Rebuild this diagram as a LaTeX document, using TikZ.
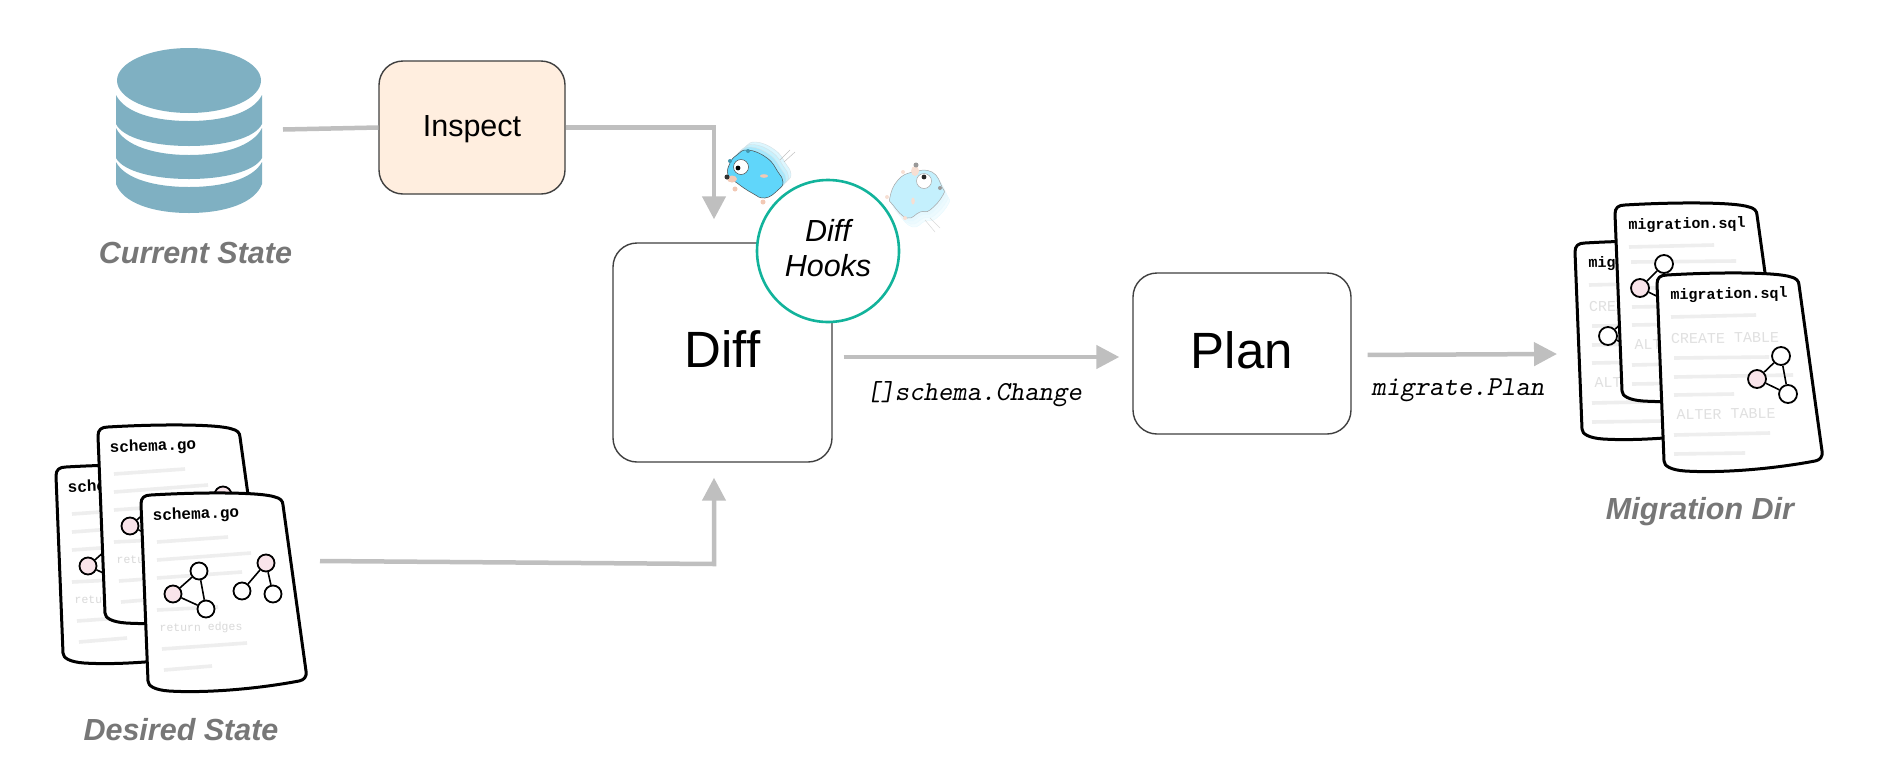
\documentclass[tikz,border=0pt]{standalone}
\usepackage{fontspec}
\setmainfont{Liberation Sans}
\newfontfamily\sheetfont{Liberation Mono}
\usetikzlibrary{arrows.meta}
\definecolor{flowgray}{HTML}{BFBFBF}
\definecolor{boxline}{HTML}{3F3F3F}
\definecolor{inspectfill}{HTML}{FFEEDF}
\definecolor{hookteal}{HTML}{12B39B}
\definecolor{dbblue}{HTML}{7FB0C2}
\definecolor{labelgray}{HTML}{777777}
\definecolor{bargray}{HTML}{EEEEEE}
\definecolor{dotpink}{HTML}{F9E4EA}
\definecolor{gopherblue}{HTML}{60D6FA}
\definecolor{gopherpale}{HTML}{C4F0FD}
\definecolor{gophertan}{HTML}{F2C9B5}
\newcommand{\fsize}[1]{\fontsize{#1}{#1}\selectfont}
\newcommand{\sheetpath}{(0,9) .. controls (0,3) and (3,0) .. (10,0)
  .. controls (60,-3) and (120,-3) .. (134,2) .. controls (139,3) and (142,6) .. (142,10)
  -- (165,176) .. controls (166,182) and (163,185) .. (158,186)
  .. controls (110,195) and (60,198) .. (28,196) .. controls (14,195) and (7,191) .. (7,186) -- cycle}
\tikzset{
  box/.style={draw=boxline,line width=1.4pt,rounded corners=24pt,align=center},
  flow/.style={draw=flowgray,line width=4.5pt,-{Triangle[width=23pt,length=23pt]}},
  flowline/.style={draw=flowgray,line width=4.5pt},
  statelabel/.style={text=labelgray,font=\fsize{30.5}\bfseries\itshape},
  codelabel/.style={font=\fsize{27.4}\ttfamily\slshape},
  sheetline/.style={draw=black,fill=white,line width=3pt,line join=round},
  textbar/.style={draw=bargray,line width=3.6pt},
  tablelabel/.style={rotate=1,text=black!12,font=\fsize{15}\sheetfont},
  whitedot/.style={circle,draw=black,fill=white,line width=1.8pt,minimum size=17pt,inner sep=0pt},
  pinkdot/.style={whitedot,fill=dotpink},
  dotedge/.style={draw=black,line width=1.6pt},
  schemasheet/.pic={
    \draw[sheetline] \sheetpath;
    \node[rotate=2,font=\fsize{16}\sheetfont\bfseries] (-title) at (55,20) {schema.go};
    \foreach \xa/\ya/\xb/\yb in {16/47/87/42,16/65/110/58,16/83/101/77,16/115/77/112,21/154/106/148,23/175/71/171}
      \draw[textbar] (\xa,\ya) -- (\xb,\yb);
    \node[rotate=1,text=black!15,font=\fsize{11.5}\sheetfont] (-code) at (60,133) {return edges};
    \node[pinkdot] (-a) at (32,99) {};
    \node[whitedot] (-b) at (58,76) {};
    \node[whitedot] (-c) at (65,114) {};
    \node[pinkdot] (-d) at (125,68) {};
    \node[whitedot] (-e) at (101,96) {};
    \node[whitedot] (-f) at (132,99) {};
    \draw[dotedge] (-a) -- (-b) (-a) -- (-c) (-b) -- (-c) (-d) -- (-e) (-d) -- (-f);
  },
  sqlsheet/.pic={
    \draw[sheetline] \sheetpath;
    \node[rotate=1,font=\fsize{15}\sheetfont\bfseries] (-title) at (72,20) {migration.sql};
    \foreach \xa/\ya/\xb/\yb in {14/42/99/40,17/83/112/82,17/102/136/100,17/120/77/119,17/160/113/158,17/179/88/178}
      \draw[textbar] (\xa,\ya) -- (\xb,\yb);
    \node[tablelabel] (-alter) at (69,139) {ALTER TABLE};
  }
}
\begin{document}
\begin{tikzpicture}[x=1pt,y=-1pt]
  \path[use as bounding box] (0,0) rectangle (1881,777);
  % current state
  \fill[dbblue] (189,80.5) ellipse [x radius=72,y radius=32.5];
  \fill[dbblue] (116,95) .. controls (125,113) and (155,121) .. (189,121) .. controls (223,121) and (253,113) .. (262,95)
    -- (262,124) .. controls (255,138) and (225,146) .. (189,146) .. controls (153,146) and (123,138) .. (116,124) -- cycle;
  \fill[dbblue] (116,128) .. controls (125,146) and (155,155) .. (189,155) .. controls (223,155) and (253,146) .. (262,128)
    -- (262,158) .. controls (255,171) and (225,179) .. (189,179) .. controls (153,179) and (123,171) .. (116,158) -- cycle;
  \fill[dbblue] (116,162) .. controls (125,179) and (155,187) .. (189,187) .. controls (223,187) and (253,179) .. (262,162)
    -- (262,184) .. controls (255,203) and (225,213) .. (189,213) .. controls (153,213) and (123,203) .. (116,184) -- cycle;
  \node[statelabel] (currentlabel) at (195.5,253) {Current State};
  % boxes
  \node[box,fill=inspectfill,minimum width=186pt,minimum height=133pt,text height=25pt,font=\fsize{30.5}] (inspect) at (472,127.5) {Inspect};
  \node[box,minimum width=219pt,minimum height=219pt,text depth=7pt,font=\fsize{51}] (diff) at (722.5,352.5) {Diff};
  \node[box,minimum width=218pt,minimum height=161pt,text depth=7pt,font=\fsize{51}] (plan) at (1242,353.5) {Plan};
  % connectors
  \coordinate (dbout) at (283,129.5);
  \coordinate (desiredout) at (320,561);
  \coordinate (desiredbend) at (714,564);
  \coordinate (migin) at (1557,354);
  \draw[flowline] (dbout) -- (inspect.west);
  \draw[flow,shorten >=23pt] (inspect.east) -| ([xshift=-8.5pt]diff.north);
  \draw[flow,shorten >=15pt] (desiredout) -- (desiredbend) -- ([xshift=-8.5pt]diff.south);
  \draw[flow,shorten <=11pt,shorten >=13pt] ([yshift=-4.5pt]diff.east) -- ([yshift=-3.5pt]plan.west);
  \draw[flow,shorten <=16pt] ([yshift=-1.5pt]plan.east) -- (migin);
  \node[codelabel] (changelabel) at (974,394) {[]schema.Change};
  \node[codelabel] (planlabel) at (1458,390) {migrate.Plan};
  % gopher one
  \foreach \off/\shade in {8/22,5.5/35,3/55}
    \draw[draw=gopherblue!50!black!20,fill=gopherblue!\shade] plot[smooth cycle,tension=0.8] coordinates
      {({748+\off},{150-\off}) ({767+\off},{158-\off}) ({778+\off},{172-\off}) ({783+\off},{182-\off}) ({778+\off},{190-\off}) ({765+\off},{198-\off}) ({752+\off},{193-\off}) ({737+\off},{183-\off}) ({728+\off},{175-\off}) ({730+\off},{163-\off}) ({737+\off},{155-\off})};
  \draw[draw=black!70,line width=0.5pt,fill=gopherblue] plot[smooth cycle,tension=0.8] coordinates
    {(748,150) (767,158) (778,172) (783,182) (778,190) (765,198) (752,193) (737,183) (728,175) (730,163) (737,155)};
  \fill[gophertan] (735,189) circle (2.5) (763,202) circle (2.5) (764,176) ellipse [x radius=4,y radius=1.8] (732,179) ellipse [x radius=5,y radius=3.5];
  \fill[black!80] (727,177) circle (2.5);
  \fill[gopherblue!70!black] (748,151) circle (2) (730,161) circle (2);
  \draw[black!70,line width=0.5pt,fill=white] (741,167) circle (7.5);
  \fill[black] (738,168) circle (2.4);
  \draw[black!25,line width=0.5pt] (780,160) -- (790,150) (784,162) -- (795,152);
  % gopher two
  \foreach \off/\shade in {9/8,6/12,3/16}
    \draw[draw=gopherblue!15,fill=gopherblue!\shade] plot[smooth cycle,tension=0.8] coordinates
      {({913+\off*0.6},{172+\off}) ({932+\off*0.6},{172+\off}) ({942+\off*0.6},{187+\off}) ({943+\off*0.6},{195+\off}) ({930+\off*0.6},{210+\off}) ({920+\off*0.6},{212+\off}) ({907+\off*0.6},{218+\off}) ({893+\off*0.6},{205+\off}) ({890+\off*0.6},{197+\off}) ({898+\off*0.6},{180+\off})};
  \draw[draw=black!35,line width=0.5pt,fill=gopherpale] plot[smooth cycle,tension=0.8] coordinates
    {(913,172) (932,172) (942,187) (943,195) (930,210) (920,212) (907,218) (893,205) (890,197) (898,180)};
  \fill[gophertan!60] (913,201) ellipse [x radius=1.8,y radius=3.5] (905,218) circle (2) (887,197) circle (2) (903,172) circle (2) (915,171) ellipse [x radius=4,y radius=5];
  \fill[black!40] (916,165) circle (2.5) (940,188) circle (2);
  \draw[black!35,line width=0.5pt,fill=white] (924,181) circle (7.5);
  \fill[black!85] (924,177) circle (2.4);
  \draw[black!15,line width=0.5pt] (925,220) -- (935,232) (930,218) -- (940,228);
  % hooks
  \node[circle,draw=hookteal,fill=white,line width=2.6pt,minimum size=142pt,inner sep=0pt] (hooks) at (828,251) {};
  \node[align=center,font=\fsize{30.5}\itshape] (hookstext) at (hooks) [yshift=3pt] {Diff\\[5pt]Hooks};
  % desired state
  \pic (schemaback) at (56,467) {schemasheet};
  \pic (schemamid) at (98,427) {schemasheet};
  \pic (schemafront) at (141,495) {schemasheet};
  \node[statelabel] (desiredlabel) at (181,730) {Desired State};
  % migration dir
  \pic (sqlback) at (1575,243) {sqlsheet};
  \node[tablelabel] (sqlbackcreate) at (1643,306) {CREATE TABLE};
  \node[whitedot,minimum size=18pt] (sqlbacka) at (1608,336) {};
  \node[whitedot,minimum size=18pt] (sqlbackb) at (1632,313) {};
  \node[whitedot,minimum size=18pt] (sqlbackc) at (1639,351) {};
  \draw[dotedge] (sqlbacka) -- (sqlbackb) (sqlbacka) -- (sqlbackc);
  \pic (sqlmid) at (1615,205) {sqlsheet};
  \draw[textbar] (1631,262) -- (1736,261);
  \node[pinkdot,minimum size=18pt] (sqlmida) at (1640,288) {};
  \node[whitedot,minimum size=18pt] (sqlmidb) at (1664,264) {};
  \node[whitedot,minimum size=18pt] (sqlmidc) at (1671,303) {};
  \draw[dotedge] (sqlmida) -- (sqlmidb) (sqlmida) -- (sqlmidc);
  \pic (sqlfront) at (1657,275) {sqlsheet};
  \node[tablelabel] (sqlfrontcreate) at (1725,338) {CREATE TABLE};
  \node[pinkdot,minimum size=18pt] (sqlfronta) at (1757,379) {};
  \node[whitedot,minimum size=18pt] (sqlfrontb) at (1781,356) {};
  \node[whitedot,minimum size=18pt] (sqlfrontc) at (1788,394) {};
  \draw[dotedge] (sqlfronta) -- (sqlfrontb) (sqlfronta) -- (sqlfrontc) (sqlfrontb) -- (sqlfrontc);
  \node[statelabel] (migrationlabel) at (1700,512) {Migration Dir};
\end{tikzpicture}
\end{document}
